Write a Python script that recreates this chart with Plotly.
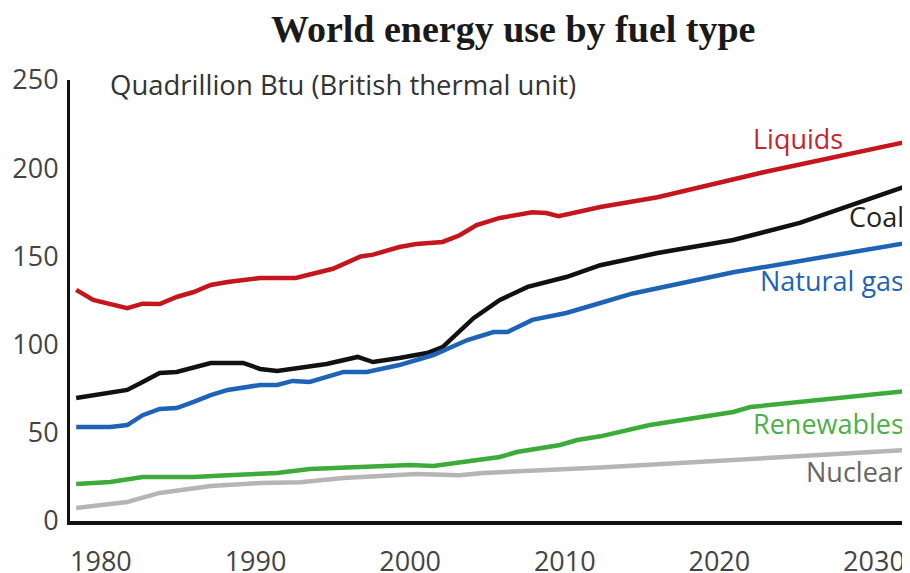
import plotly.graph_objects as go

# ---- data ----
liquids_years = [1978.4, 1979.5, 1981.7, 1982.7, 1983.8, 1984.9, 1986.0, 1987.1, 1988.2, 1990.3,
                 1992.6, 1995.0, 1996.8, 1997.6, 1999.3, 2000.4, 2002.1, 2003.2, 2004.3, 2005.8,
                 2007.9, 2008.8, 2009.6, 2012.3, 2016.0, 2023.0, 2032.1]
liquids = [131, 125.3, 120.7, 123.2, 123, 127, 129.8, 133.8, 135.5, 137.8,
           137.8, 143, 150, 151, 155.3, 157, 158.2, 162, 167.8, 171.8,
           175, 174.6, 172.8, 178, 183.5, 198, 215]

coal_years = [1978.4, 1981.7, 1982.7, 1983.8, 1984.9, 1987.1, 1989.2, 1990.3, 1991.4, 1992.9,
              1994.6, 1996.6, 1997.6, 1999.3, 2001.1, 2002.1, 2003.0, 2004.1, 2005.8, 2007.6,
              2010.1, 2012.3, 2016.0, 2020.9, 2025.2, 2032.1]
coal = [69.7, 74.3, 78.8, 83.9, 84.5, 89.6, 89.6, 86.2, 85, 86.7,
        89, 93, 90.1, 92.4, 95.2, 98.6, 106, 115, 125.3, 132.7,
        138.3, 145, 151.9, 159.3, 169, 189.8]

gas_years = [1978.4, 1980.6, 1981.7, 1982.7, 1983.8, 1984.9, 1986.0, 1987.1, 1988.2, 1990.3,
             1991.4, 1992.4, 1993.5, 1995.7, 1997.2, 1999.3, 2001.5, 2003.7, 2005.4, 2006.3,
             2007.9, 2010.1, 2012.3, 2014.4, 2020.9, 2032.1]
natural_gas = [53.3, 53.3, 54.4, 60, 63.5, 64, 67.5, 71.4, 74.3, 77.1,
               77.1, 79.4, 78.8, 84.5, 84.5, 88.4, 94.1, 102.6, 107.1, 107.1,
               114, 117.9, 123.6, 129, 141, 157.6]

renew_years = [1978.4, 1980.6, 1982.7, 1986.0, 1988.2, 1991.4, 1993.5, 1996.1, 2000.0, 2001.5,
               2003.0, 2005.8, 2006.9, 2009.7, 2010.8, 2012.3, 2015.5, 2018.7, 2020.9, 2022.0,
               2032.1]
renewables = [21, 22.1, 24.9, 24.9, 26, 27.2, 29.5, 30.6, 31.7, 31.2,
              32.9, 36.3, 39.1, 43.1, 45.9, 48, 54.4, 59, 61.8, 64.6,
              73.7]

nuclear_years = [1978.4, 1981.7, 1983.8, 1986.0, 1987.1, 1990.3, 1992.9, 1995.7, 1997.2, 2000.4,
                 2003.2, 2004.7, 2012.3, 2023.0, 2032.1]
nuclear = [7.4, 10.8, 15.9, 18.1, 19.8, 21.5, 22, 24.4, 24.9, 26.6,
           26, 27.2, 30.3, 35.7, 40.2]

x_ticks = [1980, 1990, 2000, 2010, 2020, 2030]
y_ticks = [0, 50, 100, 150, 200, 250]

series = [
    ("Liquids", liquids_years, liquids, "#C4161C"),
    ("Coal", coal_years, coal, "#111111"),
    ("Natural gas", gas_years, natural_gas, "#1F63B6"),
    ("Renewables", renew_years, renewables, "#3CAB3A"),
    ("Nuclear", nuclear_years, nuclear, "#B5B5B5"),
]

fig = go.Figure()
for name, xs, ys, col in series:
    fig.add_trace(go.Scatter(x=xs, y=ys, mode="lines", name=name,
                             line=dict(color=col, width=4.5), hoverinfo="skip"))

# series labels
labels = [
    ("Liquids", 2028.1, 217.1, "#C4262E"),
    ("Coal", 2032.1, 172.9, "#222222"),
    ("Natural gas", 2032.1, 136.6, "#1E63B5"),
    ("Renewables", 2032.1, 55.0, "#4DAF4A"),
    ("Nuclear", 2032.1, 27.8, "#666666"),
]
for txt, lx, ly, col in labels:
    fig.add_annotation(x=lx, y=ly, xref="x", yref="y", text=txt, showarrow=False,
                       xanchor="right", yanchor="middle",
                       font=dict(family="Open Sans", size=27, color=col))

# title and unit caption (positions as fractions of the plot area)
fig.add_annotation(x=(513 - 70) / 840, y=(521 - 29) / 441, xref="paper", yref="paper",
                   text="<b>World energy use by fuel type</b>", showarrow=False,
                   xanchor="center", yanchor="middle",
                   font=dict(family="Liberation Serif", size=38, color="#1a1a1a"))
fig.add_annotation(x=(108 - 70) / 840, y=(521 - 84) / 441, xref="paper", yref="paper",
                   text="Quadrillion Btu (British thermal unit)", showarrow=False,
                   xanchor="left", yanchor="middle",
                   font=dict(family="Open Sans", size=27.5, color="#333333"))

fig.update_layout(
    width=902, height=565,
    margin=dict(l=62, r=0, t=72, b=52, autoexpand=False),
    paper_bgcolor="white", plot_bgcolor="white",
    showlegend=False,
    xaxis=dict(range=[1978.0, 2032.33], tickvals=x_ticks, showgrid=False, zeroline=False,
               showline=True, linecolor="#111111", linewidth=4, automargin=False,
               ticks="outside", ticklen=14, tickcolor="rgba(0,0,0,0)",
               tickfont=dict(family="Open Sans", size=27, color="#444444")),
    yaxis=dict(range=[0, 250], tickvals=y_ticks, showgrid=False, zeroline=False,
               showline=True, linecolor="#111111", linewidth=3, automargin=False,
               ticks="outside", ticklen=3, tickcolor="rgba(0,0,0,0)",
               tickfont=dict(family="Open Sans", size=27, color="#444444")),
)

fig.write_html("out.html")
